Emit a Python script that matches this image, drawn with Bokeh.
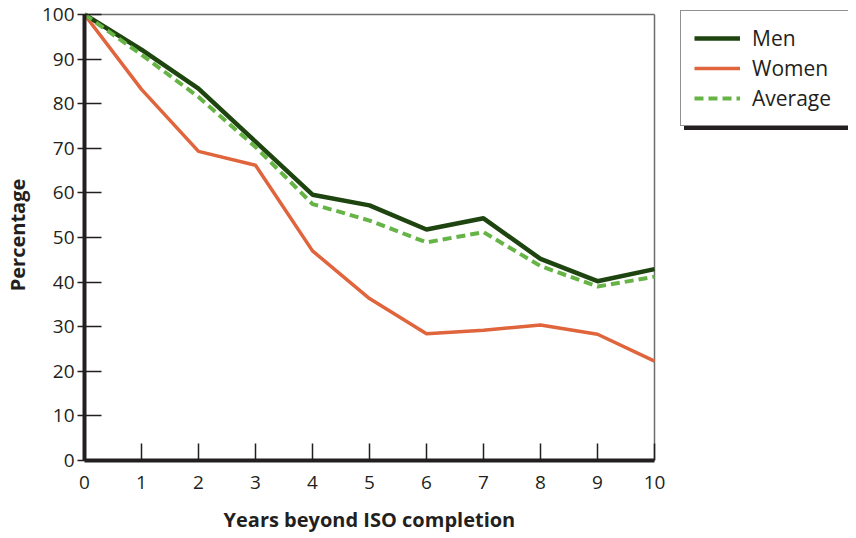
from bokeh.plotting import figure
from bokeh.models import Range1d, Legend, LegendItem, FixedTicker, Title
from bokeh.embed import file_html
from bokeh.resources import INLINE

years = [0, 1, 2, 3, 4, 5, 6, 7, 8, 9, 10]
men = [100, 92.1, 83.4, 71.5, 59.6, 57.2, 51.8, 54.3, 45.2, 40.2, 42.9]
women = [100, 83.2, 69.3, 66.2, 47.0, 36.3, 28.4, 29.2, 30.4, 28.3, 22.3]
average = [100, 91.0, 81.5, 70.3, 57.5, 53.8, 48.9, 51.2, 43.6, 39.0, 41.2]
x_ticks = list(range(0, 11))
y_ticks = list(range(0, 101, 10))

FONT = "Open Sans"
INK = "#231f20"
FRAME_GREY = "#6d6e70"

# geometry (pixels): data area is 570 x 446, the drawing frame is widened
# to the right and raised a little so the legend box can sit inside it
DATA_W, DATA_H = 570, 446
FRAME_W, FRAME_H = 764, 451
x0, x1 = x_ticks[0], x_ticks[-1]
y0, y1 = y_ticks[0], y_ticks[-1]
x_end = x0 + (x1 - x0) * FRAME_W / DATA_W
y_end = y0 + (y1 - y0) * FRAME_H / DATA_H

p = figure(frame_width=FRAME_W, frame_height=FRAME_H, output_backend="svg",
           toolbar_location=None,
           x_range=Range1d(x0, x_end), y_range=Range1d(y0, y_end),
           min_border_left=76, min_border_top=9, min_border_right=0, min_border_bottom=8)

p.xgrid.visible = False
p.ygrid.visible = False
p.outline_line_color = None
p.background_fill_color = "white"
p.border_fill_color = "white"

for ax in (p.xaxis[0], p.yaxis[0]):
    ax.axis_line_color = INK
    ax.axis_line_width = 4
    ax.major_tick_line_color = INK
    ax.major_tick_line_width = 1.5
    ax.minor_tick_line_color = None
    ax.major_label_text_font = FONT
    ax.major_label_text_font_size = "19px"
    ax.major_label_text_color = INK
    ax.axis_label_text_font = FONT
    ax.axis_label_text_font_style = "bold"
    ax.axis_label_text_font_size = "20px"
    ax.axis_label_text_color = INK

p.xaxis.bounds = (x0, x1)
p.yaxis.bounds = (y0, y1)
p.xaxis.ticker = FixedTicker(ticks=x_ticks)
p.yaxis.ticker = FixedTicker(ticks=y_ticks)
p.xaxis.major_tick_in = 17
p.xaxis.major_tick_out = 0
p.yaxis.major_tick_in = 17
p.yaxis.major_tick_out = 7
p.xaxis.major_label_standoff = 15
p.yaxis.major_label_standoff = 3
p.yaxis.axis_label = "Percentage"
p.yaxis.axis_label_standoff = 8

# x-axis title, centred under the 0..10 data area (not the widened frame)
xt = Title(text="Years beyond ISO completion", align="left", offset=139,
           text_font=FONT, text_font_style="bold", text_font_size="20px",
           text_color=INK, standoff=24)
p.add_layout(xt, "below")

# thin grey top and right borders of the data area
p.line([x0, x1], [y1, y1], line_color=FRAME_GREY, line_width=1.5)
p.line([x1, x1], [y0, y1], line_color=FRAME_GREY, line_width=1.5)

r_men = p.line(years, men, line_color="#1e4510", line_width=4.5)
r_women = p.line(years, women, line_color="#e0643c", line_width=3.5)
r_avg = p.line(years, average, line_color="#66b446", line_width=4, line_dash="9 5")

labels = ["Men", "Women", "Average"]
renderers = [r_men, r_women, r_avg]

def make_legend(dx, dy, shadow):
    items = [LegendItem(label=(" " if shadow else lab), renderers=[r])
             for lab, r in zip(labels, renderers)]
    return Legend(items=items, location=(596 + dx, 334 - dy), margin=0,
                  border_line_color=INK, border_line_width=1.5,
                  background_fill_color=INK if shadow else "white",
                  background_fill_alpha=1.0,
                  padding=13, spacing=2, glyph_width=46, glyph_height=20,
                  label_standoff=12, label_width=84,
                  label_text_font=FONT, label_text_font_size="21px",
                  label_text_color=INK)

p.add_layout(make_legend(4, 4, True), "center")
p.add_layout(make_legend(0, 0, False), "center")

open("out.html", "w").write(file_html(p, INLINE))
